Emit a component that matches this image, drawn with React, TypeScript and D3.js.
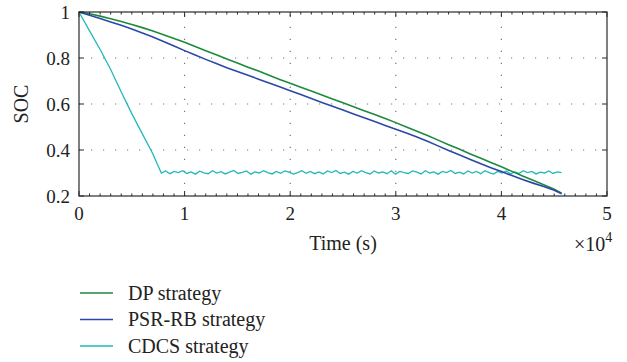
import React from "react";
import * as d3 from "d3";

const timeK = [0,1,2,3,4,5,6,7,8,9,10,11,12,13,14,15,16,17,18,19,20,21,22,23,24,25,26,27,28,29,30,31,32,33,34,35,36,37,38,39,40,41,42,43,44,45,45.7];
const dpSoc = [1.000,0.992,0.982,0.971,0.959,0.946,0.932,0.917,0.901,0.885,0.868,0.850,0.832,0.814,0.796,0.778,0.760,0.743,0.725,0.707,0.690,0.673,0.656,0.639,0.622,0.605,0.588,0.571,0.554,0.537,0.519,0.500,0.482,0.463,0.443,0.423,0.404,0.384,0.365,0.346,0.327,0.307,0.287,0.268,0.249,0.229,0.212];
const psrSoc = [1.000,0.986,0.972,0.957,0.942,0.926,0.909,0.891,0.872,0.852,0.832,0.813,0.794,0.776,0.758,0.741,0.725,0.708,0.691,0.675,0.658,0.641,0.624,0.607,0.590,0.574,0.557,0.540,0.524,0.507,0.490,0.474,0.457,0.438,0.418,0.398,0.379,0.360,0.341,0.323,0.306,0.289,0.272,0.256,0.241,0.225,0.210];

const cdcsDescentTime = [0,1000,2000,3000,4000,5000,6000,7000,7400,7800];
const cdcsDescentSoc = [1.0,0.918,0.837,0.750,0.652,0.558,0.470,0.383,0.340,0.300];
const cdcsPlateauStart = 7800;
const cdcsPlateauEnd = 45700;
const cdcsPlateauSoc = [
0.300,0.309,0.297,0.307,0.302,0.310,0.298,0.305,0.295,0.308,
0.301,0.297,0.310,0.300,0.306,0.296,0.304,0.311,0.298,0.303,
0.309,0.295,0.305,0.300,0.310,0.302,0.296,0.307,0.299,0.309,
0.304,0.295,0.302,0.310,0.299,0.307,0.297,0.305,0.296,0.309,
0.302,0.311,0.298,0.304,0.295,0.307,0.300,0.310,0.302,0.296,
0.309,0.300,0.305,0.297,0.310,0.295,0.307,0.302,0.298,0.309,
0.304,0.296,0.310,0.300,0.305,0.295,0.307,0.302,0.311,0.298,
0.304,0.296,0.309,0.300,0.307,0.297,0.310,0.302,0.295,0.307,
0.300,0.309,0.296,0.305,0.298,0.310,0.302,0.307,0.296,0.304,
0.300,0.309,0.298,0.305,0.302];

const xTicks = [0,1,2,3,4,5];
const yTicks = [0.2,0.4,0.6,0.8,1];
const yTickLabels = ["0.2","0.4","0.6","0.8","1"];
const seriesNames = ["DP strategy","PSR-RB strategy","CDCS strategy"];
const seriesColors = ["#1c8a3e","#2b48a8","#22b8b8"];

const M = { left: 79, right: 607, top: 12, bottom: 196 };
const FONT = "'Liberation Serif', 'DejaVu Serif', serif";

export default function App() {
  const x = d3.scaleLinear().domain([0, 50000]).range([M.left, M.right]);
  const y = d3.scaleLinear().domain([0.2, 1]).range([M.bottom, M.top]);

  const line = d3.line<[number, number]>().x(d => x(d[0])).y(d => y(d[1]));

  const dpPts: [number, number][] = timeK.map((t, i) => [t * 1000, dpSoc[i]]);
  const psrPts: [number, number][] = timeK.map((t, i) => [t * 1000, psrSoc[i]]);
  const idx = d3.scaleLinear().domain([0, cdcsPlateauSoc.length - 1]).range([cdcsPlateauStart, cdcsPlateauEnd]);
  const cdcsPts: [number, number][] = [
    ...cdcsDescentTime.map((t, i) => [t, cdcsDescentSoc[i]] as [number, number]),
    ...cdcsPlateauSoc.slice(1).map((v, i) => [idx(i + 1), v] as [number, number]),
  ];

  const minorX = d3.range(0, 50001, 1000).filter(v => v % 10000 !== 0);
  const axisColor = "#2a2a2a";
  const textColor = "#222";

  return (
    <svg width={627} height={362} style={{ position: "absolute", left: 0, top: 0, background: "#fff" }}>
      <g stroke="#777" strokeWidth={1.2} strokeDasharray="1.2,10.8">
        {xTicks.slice(1, -1).map(t => (
          <line key={"gx" + t} x1={x(t * 10000)} x2={x(t * 10000)} y1={M.bottom} y2={M.top} />
        ))}
        {yTicks.slice(1, -1).map(t => (
          <line key={"gy" + t} x1={M.left} x2={M.right} y1={y(t)} y2={y(t)} />
        ))}
      </g>
      <path d={line(cdcsPts) || ""} fill="none" stroke={seriesColors[2]} strokeWidth={1.3} />
      <path d={line(dpPts) || ""} fill="none" stroke={seriesColors[0]} strokeWidth={1.6} />
      <path d={line(psrPts) || ""} fill="none" stroke={seriesColors[1]} strokeWidth={1.6} />
      <rect x={M.left} y={M.top} width={M.right - M.left} height={M.bottom - M.top} fill="none" stroke={axisColor} strokeWidth={1.2} />
      <g stroke={axisColor} strokeWidth={1}>
        {xTicks.map(t => (
          <g key={"tx" + t}>
            <line x1={x(t * 10000)} x2={x(t * 10000)} y1={M.bottom} y2={M.bottom - 5} />
            <line x1={x(t * 10000)} x2={x(t * 10000)} y1={M.top} y2={M.top + 5} />
          </g>
        ))}
        {minorX.map(t => (
          <g key={"mx" + t}>
            <line x1={x(t)} x2={x(t)} y1={M.bottom} y2={M.bottom - 2.5} />
            <line x1={x(t)} x2={x(t)} y1={M.top} y2={M.top + 2.5} />
          </g>
        ))}
        {yTicks.map(t => (
          <g key={"ty" + t}>
            <line x1={M.left} x2={M.left + 5} y1={y(t)} y2={y(t)} />
            <line x1={M.right} x2={M.right - 5} y1={y(t)} y2={y(t)} />
          </g>
        ))}
      </g>
      <g fontFamily={FONT} fontSize={19} fill={textColor}>
        {xTicks.map(t => (
          <text key={"lx" + t} x={x(t * 10000)} y={220} textAnchor="middle">{t}</text>
        ))}
        {yTicks.map((t, i) => (
          <text key={"ly" + t} x={70} y={y(t) + 6.5} textAnchor="end">{yTickLabels[i]}</text>
        ))}
        <text x={343} y={250} textAnchor="middle" fontSize={20}>Time (s)</text>
        <text x={574} y={251} fontSize={20}>×10<tspan dy={-9} fontSize={14}>4</tspan></text>
        <text transform={`translate(28,${(M.top + M.bottom) / 2}) rotate(-90)`} textAnchor="middle" fontSize={20}>SOC</text>
      </g>
      <g fontFamily={FONT} fontSize={20} fill={textColor}>
        {seriesNames.map((n, i) => (
          <g key={n} transform={`translate(0,${293 + i * 26.5})`}>
            <line x1={80} x2={113} y1={0} y2={0} stroke={seriesColors[i]} strokeWidth={1.5} />
            <text x={128} y={6.5}>{n}</text>
          </g>
        ))}
      </g>
    </svg>
  );
}
